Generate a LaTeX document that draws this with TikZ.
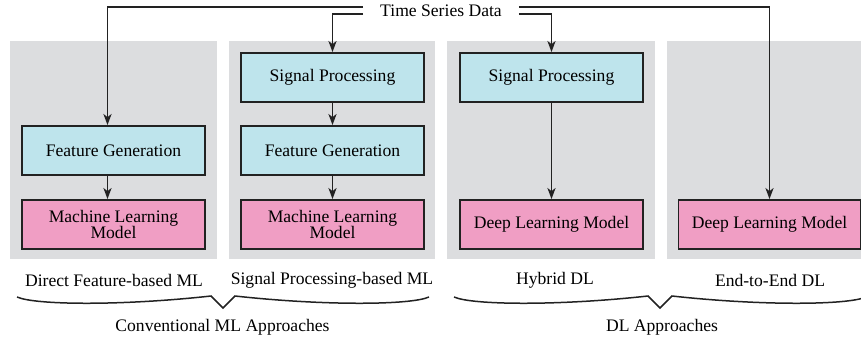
\documentclass[tikz,border=0pt]{standalone}
\usepackage{fontspec}
\setmainfont{Liberation Serif}
\newfontfamily\tnr{Liberation Serif}
\usetikzlibrary{arrows.meta,positioning}
\definecolor{panelgray}{HTML}{DCDDDF}
\definecolor{boxblue}{HTML}{BEE4EC}
\definecolor{boxpink}{HTML}{F09EC4}
\definecolor{linecol}{HTML}{222222}
\tikzset{
  panel/.style={fill=panelgray, draw=none},
  bluebox/.style={draw=linecol, line width=1.8pt, fill=boxblue, minimum width=183pt, minimum height=49pt, inner sep=0pt, align=center},
  pinkbox/.style={draw=linecol, line width=1.8pt, fill=boxpink, minimum width=183pt, minimum height=49pt, inner sep=0pt, align=center},
  arr/.style={draw=linecol, line width=1.9pt, -{Stealth[length=11pt,width=8pt,inset=3pt]}},
  lbl/.style={inner sep=0pt},
  bracepath/.style={draw=linecol, line width=1.5pt}
}
\begin{document}
\begin{tikzpicture}[x=1pt,y=-1pt, font=\tnr\fontsize{17.6}{19.5}\selectfont]
\useasboundingbox (0,0) rectangle (861,341);
\clip (0,0) rectangle (861,341);
% panels
\path[panel] (10,41) rectangle (217,259);
\path[panel] (229,41) rectangle (435,259);
\path[panel] (447,41) rectangle (655,259);
\path[panel] (667,41) rectangle (861,259);
% title node
\node[lbl, inner xsep=17pt, minimum height=14pt] (ts) at (441,10.5) {Time Series Data};
% boxes panel 1
\node[bluebox] (fg1) at (113.5,150.5) {Feature Generation};
\node[pinkbox] (ml1) at (113.5,224.5) {Machine Learning\\[-3pt]Model};
% panel 2
\node[bluebox] (sp2) at (332.5,77.5) {Signal Processing};
\node[bluebox] (fg2) at (332.5,150.5) {Feature Generation};
\node[pinkbox] (ml2) at (332.5,224.5) {Machine Learning\\[-3pt]Model};
% panel 3
\node[bluebox] (sp3) at (551.5,77.5) {Signal Processing};
\node[pinkbox] (dl3) at (551.5,224.5) {Deep Learning Model};
% panel 4
\node[pinkbox, minimum width=182pt] (dl4) at (769.5,224.5) {Deep Learning Model};
% connectors
\draw[arr] ([yshift=3.5pt]ts.west) -| ([xshift=-6pt]fg1.north);
\draw[arr] ([yshift=-3.5pt]ts.west) -| (sp2.north);
\draw[arr] ([yshift=3.5pt]ts.east) -| (dl4.north);
\draw[arr] ([yshift=-3.5pt]ts.east) -| (sp3.north);
\draw[arr] ([xshift=-6pt]fg1.south) -- ([xshift=-6pt]ml1.north);
\draw[arr] (sp2) -- (fg2);
\draw[arr] (fg2) -- (ml2);
\draw[arr] (sp3) -- (dl3);
% labels
\node[lbl] (l1) at (114,280) {Direct Feature-based ML};
\node[lbl] (l2) at (332,280) {Signal Processing-based ML};
\node[lbl] (l3) at (555,280) {Hybrid DL};
\node[lbl] (l4) at (770,280) {End-to-End DL};
% braces
\draw[bracepath] (17,297) .. controls (35,305) and (120,306) .. (211,296) -- (223,308) -- (235,296) .. controls (326,306) and (411,305) .. (429,297);
\draw[bracepath] (454,297) .. controls (472,305) and (557,306) .. (648,296) -- (660,308) -- (672,296) .. controls (763,306) and (848,305) .. (866,297);
\node[lbl] (g1) at (222.5,327) {Conventional ML Approaches};
\node[lbl] (g2) at (662,327) {DL Approaches};
\end{tikzpicture}
\end{document}
